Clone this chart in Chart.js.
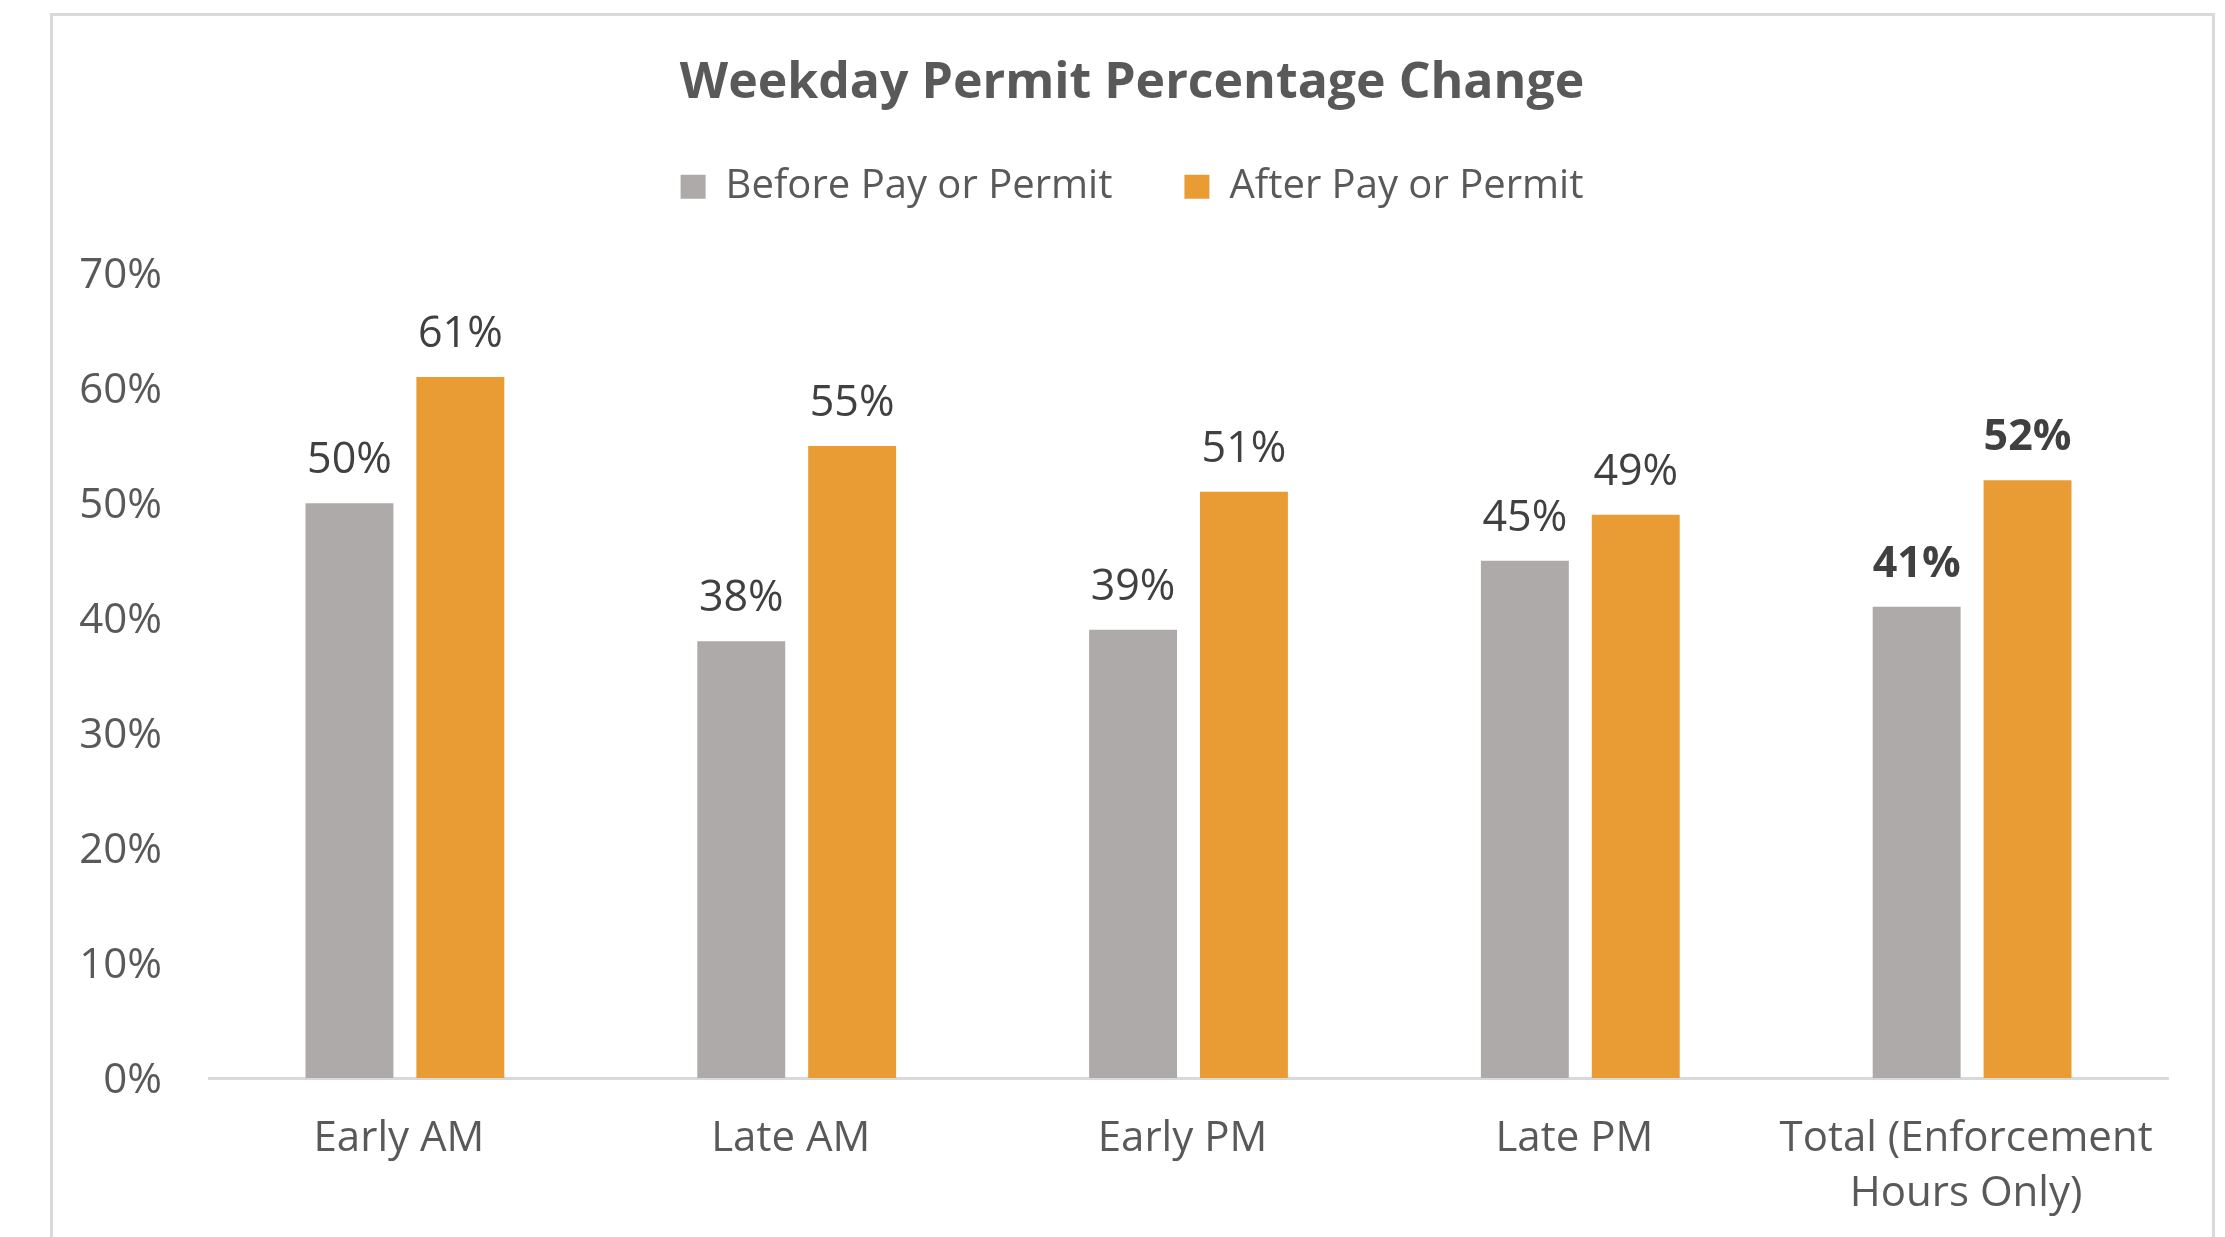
<!DOCTYPE html>
<html>
<head>
<meta charset="utf-8">
<script src="https://cdn.jsdelivr.net/npm/chart.js@4/dist/chart.umd.min.js"></script>
<style>
  html, body { margin: 0; padding: 0; background: #ffffff; overflow: hidden; }
  #wrap { position: relative; width: 2225px; height: 1237px; }
  #frame { position: absolute; left: 50px; top: 13px; width: 2165px; height: 1300px;
           border: 3px solid #d9d9d9; box-sizing: border-box; pointer-events: none; }
  canvas { position: absolute; left: 0; top: 0; }
</style>
</head>
<body>
<div id="wrap">
  <canvas id="c" width="2225" height="1237"></canvas>
  <div id="frame"></div>
</div>
<script>
const chartTitle = 'Weekday Permit Percentage Change';
const categories = ['Early AM', 'Late AM', 'Early PM', 'Late PM', ['Total (Enforcement', 'Hours Only)']];
const seriesNames = ['Before Pay or Permit', 'After Pay or Permit'];
const beforeValues = [50, 38, 39, 45, 41];
const afterValues = [61, 55, 51, 49, 52];
const yTickMin = 0;
const yTickMax = 70;
const yTickStep = 10;
const boldLabelIndex = 4;

const FONT = "'Open Sans', 'Noto Sans', sans-serif";

const valueLabels = {
  id: 'valueLabels',
  afterDatasetsDraw(chart) {
    const ctx = chart.ctx;
    ctx.save();
    ctx.fillStyle = '#404040';
    ctx.textAlign = 'center';
    ctx.textBaseline = 'alphabetic';
    chart.data.datasets.forEach((ds, di) => {
      const meta = chart.getDatasetMeta(di);
      meta.data.forEach((bar, i) => {
        const bold = i === boldLabelIndex;
        ctx.font = (bold ? 'bold ' : '') + '43px ' + FONT;
        ctx.fillText(ds.data[i] + '%', bar.x, bar.y - 30);
      });
    });
    ctx.restore();
  }
};

new Chart(document.getElementById('c'), {
  type: 'bar',
  data: {
    labels: categories,
    datasets: [
      { label: seriesNames[0], data: beforeValues, backgroundColor: '#AEAAAA',
        categoryPercentage: 0.566, barPercentage: 0.793 },
      { label: seriesNames[1], data: afterValues, backgroundColor: '#E99C34',
        categoryPercentage: 0.566, barPercentage: 0.793 }
    ]
  },
  options: {
    responsive: false,
    devicePixelRatio: 1,
    animation: false,
    layout: { padding: { left: 50, right: 11, top: 0, bottom: 0 } },
    plugins: {
      title: {
        display: true,
        text: chartTitle,
        color: '#595959',
        font: { family: FONT, size: 50, weight: 'bold', lineHeight: 1.2 },
        padding: { top: 54, bottom: -19.2 }
      },
      legend: {
        display: true,
        position: 'top',
        labels: {
          color: '#595959',
          font: { family: FONT, size: 40 },
          boxWidth: 25,
          boxHeight: 24,
          padding: 72
        }
      },
      subtitle: {
        display: true,
        text: '',
        weight: 500,
        font: { size: 1, lineHeight: 1 },
        padding: { top: 55.7, bottom: 0 }
      },
      tooltip: { enabled: false }
    },
    scales: {
      x: {
        grid: { display: false, drawTicks: false },
        border: { display: true, color: '#d9d9d9', width: 3 },
        ticks: {
          color: '#595959',
          font: { family: FONT, size: 42, lineHeight: 1.31 },
          padding: 34,
          labelOffset: -6,
          maxRotation: 0,
          autoSkip: false
        },
        afterFit(scale) { scale.height = 159; }
      },
      y: {
        min: yTickMin,
        max: yTickMax,
        grid: { display: false, drawTicks: false },
        border: { display: false },
        ticks: {
          stepSize: yTickStep,
          color: '#595959',
          font: { family: FONT, size: 42 },
          padding: 47,
          labelOffset: 3,
          callback: v => v + '%'
        },
        afterFit(scale) { scale.width = 159; }
      },
      yRightSpace: {
        position: 'right',
        display: true,
        min: yTickMin,
        max: yTickMax,
        grid: { display: false, drawTicks: false },
        border: { display: false },
        ticks: { display: false },
        afterFit(scale) { scale.width = 46; }
      }
    }
  },
  plugins: [valueLabels]
});
</script>
</body>
</html>
